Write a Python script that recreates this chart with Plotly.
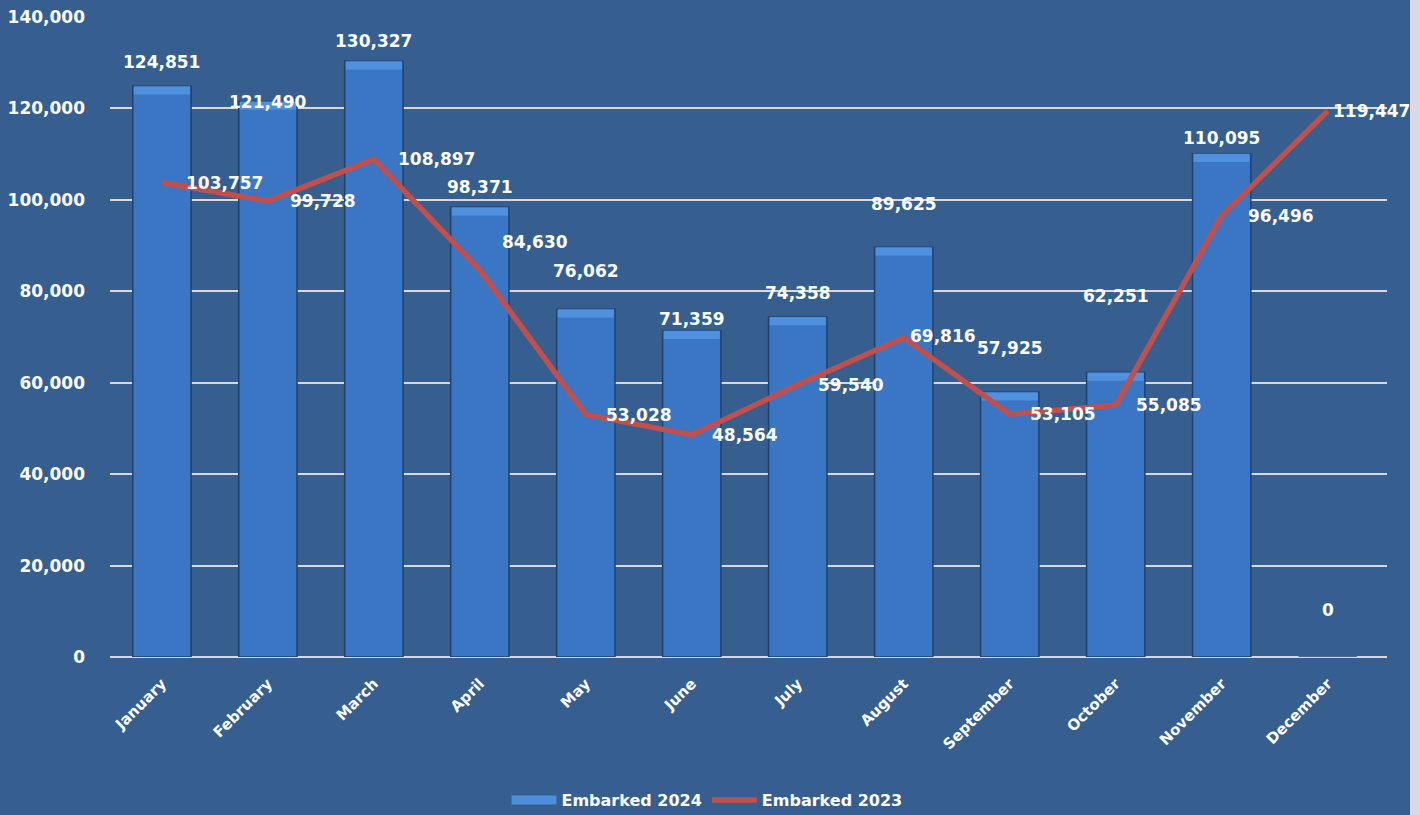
import plotly.graph_objects as go

months = ["January", "February", "March", "April", "May", "June", "July",
          "August", "September", "October", "November", "December"]
embarked_2024 = [124851, 121490, 130327, 98371, 76062, 71359, 74358,
                 89625, 57925, 62251, 110095, 0]
embarked_2023 = [103757, 99728, 108897, 84630, 53028, 48564, 59540,
                 69816, 53105, 55085, 96496, 119447]

# label placement offsets (pixels), reproducing the manual label layout
bar_label_lift = [24, 0, 20, 20, 38, 12, 24, 43, 44, 76, 16, 47]
line_label_dx = [22, 20, 22, 20, 18, 18, 18, 4, 18, 18, 24, 3]
line_label_dy = [0, 0, 0, 28, 0, 0, 0, 2, 0, 0, 0, 0]

BG = "#365E8E"
FONT = "DejaVu Sans"
fmt = lambda v: f"{v:,}"

# bevel highlight at the top of each bar (depth in axis units)
BEVEL = 1800
bevel_h = [min(BEVEL, v) for v in embarked_2024]
bevel_base = [v - h for v, h in zip(embarked_2024, bevel_h)]

fig = go.Figure()
fig.add_trace(go.Bar(
    x=months, y=embarked_2024, name="Embarked 2024", showlegend=False,
    marker=dict(color="#3A76C4", line=dict(color="#22426C", width=1.5)),
    width=0.55, hoverinfo="skip",
))
fig.add_trace(go.Bar(
    x=months, y=bevel_h, base=bevel_base, showlegend=False,
    marker=dict(color="#4F90DF", line=dict(width=0)),
    width=0.53, hoverinfo="skip",
))
# legend proxy giving the wide flat bar swatch of the original legend
fig.add_trace(go.Scatter(
    x=[None], y=[None], name="Embarked 2024", mode="lines",
    line=dict(color="#4A8EDC", width=9),
))
fig.add_trace(go.Scatter(
    x=months, y=embarked_2023, name="Embarked 2023", mode="lines",
    line=dict(color="#C0504D", width=5.5),
))

annotations = []
for m, v, lift in zip(months, embarked_2024, bar_label_lift):
    annotations.append(dict(x=m, y=v, text=fmt(v), showarrow=False,
                            xanchor="center", yanchor="bottom", yshift=lift - 12,
                            font=dict(family=FONT, size=17, color="white", weight="bold")))
for m, v, dx, dy in zip(months, embarked_2023, line_label_dx, line_label_dy):
    annotations.append(dict(x=m, y=v, text=fmt(v), showarrow=False,
                            xanchor="left", yanchor="middle", xshift=dx, yshift=dy,
                            font=dict(family=FONT, size=17, color="white", weight="bold")))

fig.update_layout(
    width=1420, height=815,
    paper_bgcolor=BG, plot_bgcolor=BG,
    margin=dict(l=110, r=33, t=17, b=158),
    barmode="overlay",
    font=dict(family=FONT, color="white", weight="bold"),
    showlegend=True,
    legend=dict(orientation="h", x=0.4675, xanchor="center",
                yref="container", y=15 / 815, yanchor="middle",
                font=dict(family=FONT, size=16, color="white", weight="bold"),
                bgcolor="rgba(0,0,0,0)", itemwidth=45, tracegroupgap=0),
    annotations=annotations,
    shapes=[dict(type="rect", xref="paper", yref="paper",
                 x0=(1410 - 110) / 1277, x1=(1421 - 110) / 1277,
                 y0=-158 / 640, y1=(815 - 158) / 640,
                 fillcolor="#DCD8E4", line=dict(width=0), layer="above")],
)
fig.update_xaxes(
    range=[-0.49, 11.56],
    tickangle=-45, showgrid=False, showline=False, ticks="", automargin=False,
    ticklabelstandoff=14,
    tickfont=dict(family=FONT, size=15, color="white", weight="bold"),
)
fig.update_yaxes(
    range=[0, 140000], dtick=20000, tickformat=",d", automargin=False,
    showgrid=True, gridcolor="#D9D9D9", gridwidth=2,
    zeroline=True, zerolinecolor="#D9D9D9", zerolinewidth=2,
    ticks="", ticklabelstandoff=24,
    tickfont=dict(family=FONT, size=17, color="white", weight="bold"),
)

fig.write_html("out.html", config={"displayModeBar": False},
               post_script="document.body.style.margin='0';document.body.style.overflow='hidden';")
